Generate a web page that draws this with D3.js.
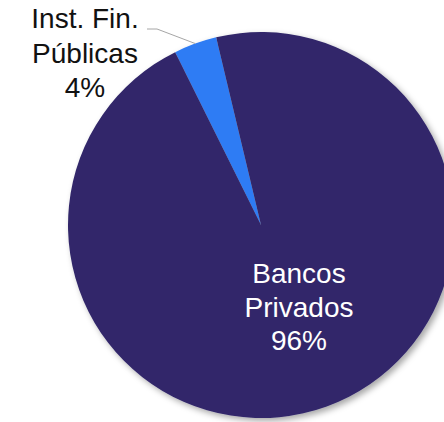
<!DOCTYPE html>
<html>
<head>
<meta charset="utf-8">
<script src="https://cdn.jsdelivr.net/npm/d3@7"></script>
<style>
  body { margin: 0; background: #fff; }
  svg { display: block; }
  text { font-family: "Liberation Sans", Arial, sans-serif; }
</style>
</head>
<body>
<svg id="chart" width="444" height="422"></svg>
<script>
// data
const categories = ['Inst. Fin. Públicas', 'Bancos Privados'];
const label_lines = [['Inst. Fin.', 'Públicas'], ['Bancos', 'Privados']];
const shares = [3.6, 96.4];
const slice_colors = ['#2e7cf4', '#32286a'];

const width = 444, height = 422;
const cx = 261, cy = 225, radius = 193;
const start_deg = -26.4;

const svg = d3.select('#chart');

// soft shadow like the office chart
const defs = svg.append('defs');
const shadow = defs.append('filter')
    .attr('id', 'pie-shadow')
    .attr('x', '-20%').attr('y', '-20%')
    .attr('width', '140%').attr('height', '140%');
shadow.append('feDropShadow')
    .attr('dx', 3).attr('dy', 3)
    .attr('stdDeviation', 3)
    .attr('flood-color', '#000')
    .attr('flood-opacity', 0.35);

const pie = d3.pie()
    .sort(null)
    .value(d => d)
    .startAngle(start_deg * Math.PI / 180)
    .endAngle(start_deg * Math.PI / 180 + 2 * Math.PI);

const arc = d3.arc().innerRadius(0).outerRadius(radius);
const edge_arc = d3.arc().innerRadius(radius).outerRadius(radius);

const arcs = pie(shares);

const grp = svg.append('g')
    .attr('transform', 'translate(' + cx + ',' + cy + ')');

grp.append('g')
    .attr('filter', 'url(#pie-shadow)')
  .selectAll('path')
    .data(arcs)
    .enter()
  .append('path')
    .attr('d', arc)
    .attr('fill', (d, i) => slice_colors[i]);

const total = d3.sum(shares);
const pct = v => Math.round(v / total * 100) + '%';

// small slice: label outside with leader line
const small = arcs[0];
const tip = edge_arc.centroid(small);
const elbow = [157 - cx, 29 - cy];
grp.append('path')
    .attr('d', `M${elbow[0] - 10},${elbow[1]}H${elbow[0]}L${tip[0]},${tip[1]}`)
    .attr('fill', 'none')
    .attr('stroke', '#a6a6a6')
    .attr('stroke-width', 1);

const small_lines = label_lines[0].concat([pct(shares[0])]);
svg.append('g')
  .selectAll('text')
    .data(small_lines)
    .enter()
  .append('text')
    .attr('x', 85)
    .attr('y', (d, i) => 28 + i * 34.5)
    .attr('text-anchor', 'middle')
    .attr('fill', '#111')
    .style('font-size', '28px')
    .text(d => d);

// big slice: label inside
const big_lines = label_lines[1].concat([pct(shares[1])]);
svg.append('g')
  .selectAll('text')
    .data(big_lines)
    .enter()
  .append('text')
    .attr('x', 299)
    .attr('y', (d, i) => 283 + i * 33.5)
    .attr('text-anchor', 'middle')
    .attr('fill', '#ffffff')
    .style('font-size', '28px')
    .text(d => d);
</script>
</body>
</html>
